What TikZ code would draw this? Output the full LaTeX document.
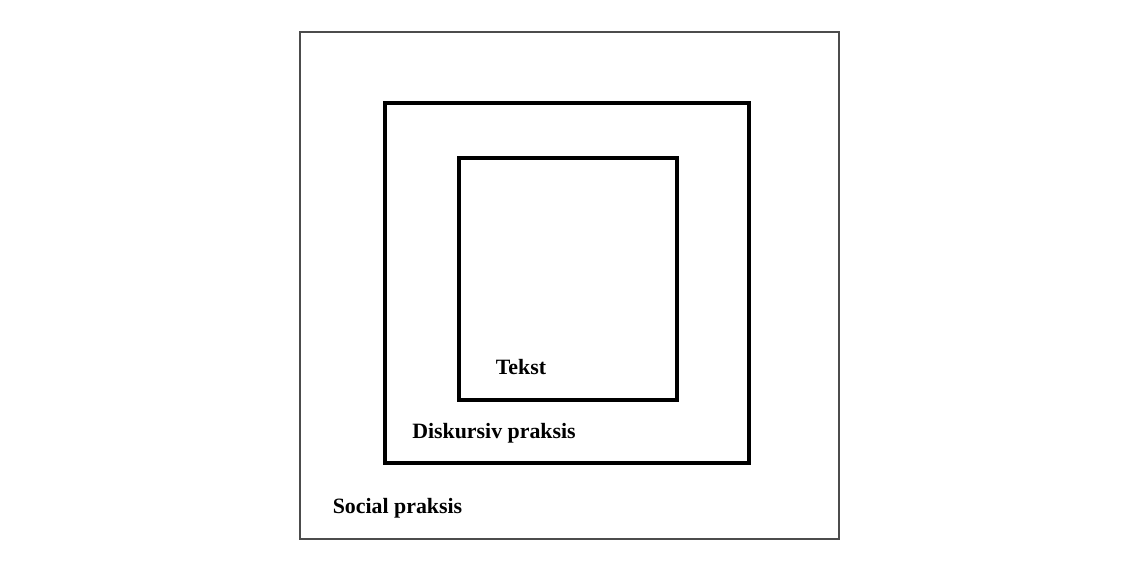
\documentclass[tikz,border=0pt]{standalone}
\usepackage{fontspec}
\setmainfont{Liberation Serif}
\begin{document}
\begin{tikzpicture}[x=0.75pt,y=-0.75pt,
  outerbox/.style={draw=black!70, line width=1pt},
  innerbox/.style={draw=black, line width=2.5pt},
  lbl/.style={font=\fontsize{16.4}{19}\selectfont\bfseries, inner sep=0pt, anchor=center}]
\useasboundingbox (0,0) rectangle (1140,570);
\draw[outerbox] (300,32) rectangle (839,539);
\draw[innerbox] (385,103) rectangle (749,463);
\draw[innerbox] (459,158) rectangle (677,400);
\node[lbl] (tekst) at (521,367) {Tekst};
\node[lbl] (disk) at (494,433) {Diskursiv praksis};
\node[lbl] (social) at (397.5,508) {Social praksis};
\end{tikzpicture}
\end{document}
